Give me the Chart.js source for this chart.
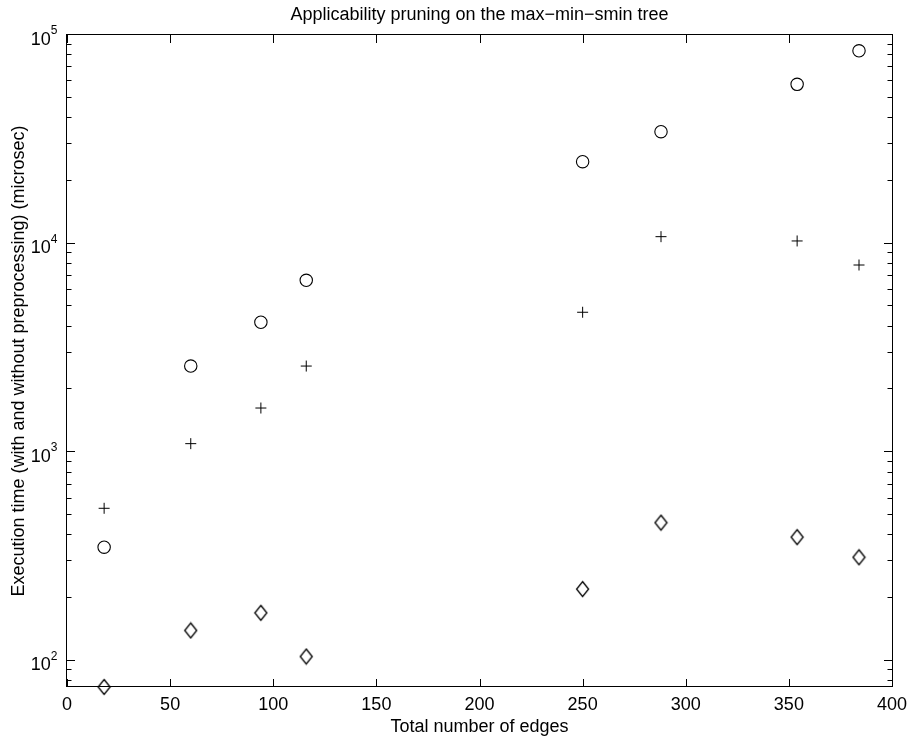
<!DOCTYPE html>
<html>
<head>
<meta charset="utf-8">
<script src="https://cdn.jsdelivr.net/npm/chart.js@4.4.1/dist/chart.umd.min.js"></script>
<style>
  html, body { margin: 0; padding: 0; background: #fff; }
  #wrap { width: 911px; height: 740px; }
</style>
</head>
<body>
<div id="wrap"><canvas id="myChart" width="911" height="740"></canvas></div>
<script>
// values
const edges = [18, 60, 94, 116, 250, 288, 354, 384];
const timeCircle = [351, 2590, 4200, 6670, 24700, 34400, 58000, 84000];
const timePlus = [539, 1100, 1630, 2590, 4690, 10800, 10300, 7900];
const timeDiamond = [75, 140, 170, 105, 221, 460, 392, 314];

const xTickValues = [0, 50, 100, 150, 200, 250, 300, 350, 400];
const yTickExponents = [2, 3, 4, 5];
const yMin = 75;
const yMax = 100000;

const FONT = "'Liberation Sans', Arial, Helvetica, sans-serif";
Chart.defaults.font.family = FONT;
Chart.defaults.color = "#000";

// MATLAB style diamond: a bit taller than wide
function diamondMarker(w, h) {
  const c = document.createElement("canvas");
  c.width = w + 3;
  c.height = h + 3;
  const g = c.getContext("2d");
  const cx = c.width / 2, cy = c.height / 2;
  g.strokeStyle = "#000";
  g.lineWidth = 1.3;
  g.beginPath();
  g.moveTo(cx, cy - h / 2);
  g.lineTo(cx + w / 2, cy);
  g.lineTo(cx, cy + h / 2);
  g.lineTo(cx - w / 2, cy);
  g.closePath();
  g.stroke();
  return c;
}

const toPoints = (ys) => edges.map((x, i) => ({ x, y: ys[i] }));

// boxed axes with inward ticks + 10^n labels
const matlabAxes = {
  id: "matlabAxes",
  afterDraw(chart) {
    const { ctx, chartArea: a } = chart;
    const xs = chart.scales.x, ys = chart.scales.y;
    ctx.save();
    ctx.strokeStyle = "#000";
    ctx.lineWidth = 1;
    ctx.beginPath();
    xs.ticks.forEach((t) => {
      const px = Math.round(xs.getPixelForValue(t.value)) + 0.5;
      ctx.moveTo(px, a.bottom);
      ctx.lineTo(px, a.bottom - 8);
      ctx.moveTo(px, a.top);
      ctx.lineTo(px, a.top + 8);
    });
    for (let e = 1; e <= 5; e++) {
      for (let k = 1; k <= 9; k++) {
        const v = k * Math.pow(10, e);
        if (v < yMin || v > yMax) continue;
        const py = Math.round(ys.getPixelForValue(v)) - 0.5;
        const len = k === 1 ? 8 : 4.5;
        ctx.moveTo(a.left, py);
        ctx.lineTo(a.left + len, py);
        ctx.moveTo(a.right, py);
        ctx.lineTo(a.right - len, py);
      }
    }
    ctx.stroke();
    ctx.strokeRect(a.left - 0.5, a.top - 0.5, a.right - a.left + 1, a.bottom - a.top);

    ctx.fillStyle = "#000";
    ctx.textAlign = "right";
    ctx.textBaseline = "alphabetic";
    const labelRight = a.left - 9.5;
    yTickExponents.forEach((e) => {
      const py = ys.getPixelForValue(Math.pow(10, e));
      ctx.font = "12px " + FONT;
      const exp = String(e);
      const ew = ctx.measureText(exp).width;
      ctx.fillText(exp, labelRight, py - 1);
      ctx.font = "18px " + FONT;
      ctx.fillText("10", labelRight - ew, py + 9.5);
    });
    ctx.restore();
  },
};

const ctx = document.getElementById("myChart").getContext("2d");

new Chart(ctx, {
  type: "scatter",
  data: {
    datasets: [
      {
        label: "circle",
        data: toPoints(timeCircle),
        pointStyle: "circle",
        pointRadius: 6.2,
        borderColor: "#000",
        backgroundColor: "rgba(0,0,0,0)",
        pointBorderWidth: 1.1,
        clip: false,
      },
      {
        label: "plus",
        data: toPoints(timePlus),
        pointStyle: "cross",
        pointRadius: 5.5,
        borderColor: "#000",
        backgroundColor: "rgba(0,0,0,0)",
        pointBorderWidth: 1,
        clip: false,
      },
      {
        label: "diamond",
        data: toPoints(timeDiamond),
        pointStyle: diamondMarker(12, 15),
        pointRadius: 7,
        borderColor: "#000",
        backgroundColor: "rgba(0,0,0,0)",
        clip: false,
      },
    ],
  },
  options: {
    responsive: false,
    animation: false,
    events: [],
    layout: { padding: { left: 0, right: 19, top: 0, bottom: 0 } },
    plugins: {
      legend: { display: false },
      tooltip: { enabled: false },
      title: {
        display: true,
        text: "Applicability pruning on the max\u2212min\u2212smin tree",
        fullSize: false,
        color: "#000",
        font: { size: 18, weight: "normal", lineHeight: 1.2 },
        padding: { top: 4, bottom: 9.4 },
      },
    },
    scales: {
      x: {
        type: "linear",
        min: 0,
        max: 400,
        afterBuildTicks: (s) => {
          s.ticks = xTickValues.map((v) => ({ value: v }));
        },
        afterFit: (s) => {
          s.height = 53;
          s.paddingLeft = 0;
          s.paddingRight = 0;
        },
        grid: { display: false, drawTicks: false },
        border: { display: false },
        ticks: {
          padding: 7,
          color: "#000",
          font: { size: 18 },
          maxRotation: 0,
          autoSkip: false,
        },
        title: {
          display: true,
          text: "Total number of edges",
          color: "#000",
          font: { size: 18, lineHeight: 1.2 },
          padding: { top: 0, bottom: 2 },
        },
      },
      y: {
        type: "logarithmic",
        min: yMin,
        max: yMax,
        afterFit: (s) => {
          s.width = 67;
          s.paddingTop = 0;
          s.paddingBottom = 0;
        },
        grid: { display: false, drawTicks: false },
        border: { display: false },
        ticks: { display: false },
        title: {
          display: true,
          text: "Execution time (with and without preprocessing) (microsec)",
          color: "#000",
          font: { size: 18, lineHeight: 1.2 },
          padding: { top: 8, bottom: 0 },
        },
      },
    },
  },
  plugins: [matlabAxes],
});
</script>
</body>
</html>
